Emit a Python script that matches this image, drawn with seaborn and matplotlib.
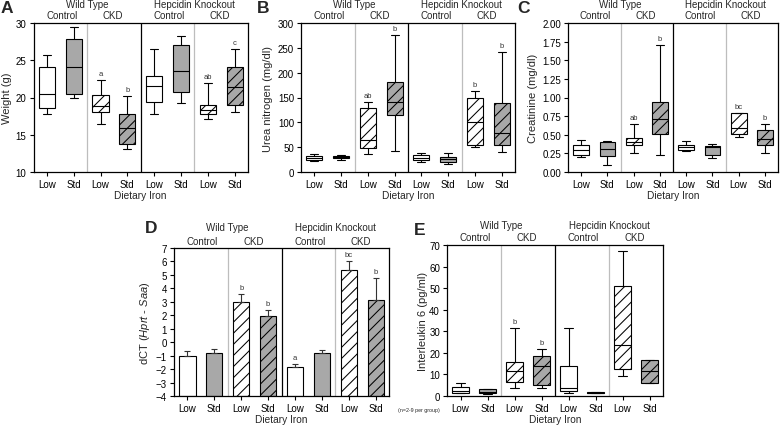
import numpy as np
import pandas as pd
import matplotlib
matplotlib.use("Agg")
import matplotlib.pyplot as plt
import seaborn as sns

# ---------------- data ----------------
groups = ["WT-Ctrl-Low", "WT-Ctrl-Std", "WT-CKD-Low", "WT-CKD-Std",
          "HK-Ctrl-Low", "HK-Ctrl-Std", "HK-CKD-Low", "HK-CKD-Std"]
iron_labels = ["Low", "Std", "Low", "Std", "Low", "Std", "Low", "Std"]
genotype_labels = ["Wild Type", "Hepcidin Knockout"]
condition_labels = ["Control", "CKD", "Control", "CKD"]

# A: body weight (g), five-number summaries
weight_min = [17.85, 19.9, 16.45, 13.1, 17.85, 19.3, 17.1, 18.1]
weight_q1 = [18.55, 20.45, 18.1, 13.7, 19.45, 20.8, 17.85, 19.0]
weight_med = [20.5, 24.1, 18.9, 15.95, 21.5, 23.5, 18.3, 21.35]
weight_q3 = [24.1, 27.9, 20.35, 17.85, 22.95, 27.0, 19.0, 24.1]
weight_max = [25.7, 29.5, 22.4, 20.2, 26.55, 28.2, 21.9, 26.45]
weight_letters = ["", "", "a", "b", "", "", "ab", "c"]

# B: urea nitrogen (mg/dl)
urea_min = [22, 25, 36, 42, 20, 16, 50, 40]
urea_q1 = [24, 28, 48, 115, 24, 21, 54, 54]
urea_med = [28, 30, 64, 141, 28, 26, 101, 79]
urea_q3 = [32, 33, 128, 182, 34, 31, 148, 138]
urea_max = [36, 35, 140, 276, 38, 39, 163, 242]
urea_letters = ["", "", "ab", "b", "", "", "b", "b"]

# C: creatinine (mg/dl)
creat_min = [0.197, 0.099, 0.26, 0.233, 0.278, 0.193, 0.466, 0.251]
creat_q1 = [0.229, 0.22, 0.363, 0.507, 0.30, 0.228, 0.506, 0.358]
creat_med = [0.296, 0.31, 0.408, 0.709, 0.33, 0.33, 0.587, 0.448]
creat_q3 = [0.359, 0.408, 0.462, 0.942, 0.368, 0.345, 0.788, 0.564]
creat_max = [0.426, 0.417, 0.641, 1.70, 0.416, 0.381, 0.788, 0.645]
creat_letters = ["", "", "ab", "b", "", "", "bc", "b"]

# D: dCT (Hprt - Saa), mean and SEM
dct_mean = [-1.05, -0.78, 2.96, 1.92, -1.85, -0.83, 5.39, 3.16]
dct_sem = [0.43, 0.25, 0.60, 0.47, 0.23, 0.27, 0.62, 1.61]
dct_letters = ["", "", "b", "b", "a", "", "bc", "b"]

# E: interleukin 6 (pg/ml)
il6_min = [1.2, 1.1, 3.5, 3.5, 1.2, 1.2, 9.3, 6.0]
il6_q1 = [1.5, 1.2, 6.3, 5.1, 2.5, 1.2, 12.4, 6.0]
il6_med = [2.5, 1.9, 11.5, 13.9, 3.7, 1.6, 23.6, 11.6]
il6_q3 = [4.0, 3.1, 15.6, 18.5, 13.8, 2.0, 50.8, 16.7]
il6_max = [6.2, 3.2, 31.4, 21.6, 31.4, 2.0, 67.2, 16.7]
il6_letters = ["", "", "b", "b", "", "", "", ""]

# ---------------- style ----------------
GRAY = "#a8a8a8"
fills = ["white", GRAY] * 4
hatches = ["", "", "///", "///", "", "", "///", "///"]

sns.set_theme(style="ticks")
plt.rcParams["font.family"] = ["Liberation Sans", "DejaVu Sans"]
plt.rcParams["mathtext.fontset"] = "custom"
plt.rcParams["mathtext.rm"] = "Liberation Sans"
plt.rcParams["mathtext.it"] = "Liberation Sans:italic"
plt.rcParams["hatch.linewidth"] = 0.75
plt.rcParams["axes.linewidth"] = 0.9

W, H = 781, 427
fig = plt.figure(figsize=(W / 100, H / 100), dpi=100)


def add_ax(l, r, t, b):
    return fig.add_axes([l / W, 1 - b / H, (r - l) / W, (b - t) / H])


def frame(ax, ylim, yticks, ylabel, ylab_x, left_px, width_px, fmt=None, head_off=(8, 18.5)):
    ax.set_xlim(-0.5, 7.5)
    ax.set_ylim(*ylim)
    ax.axvline(1.5, color="#bdbdbd", lw=0.9, zorder=0.5)
    ax.axvline(5.5, color="#bdbdbd", lw=0.9, zorder=0.5)
    ax.axvline(3.5, color="black", lw=0.9, zorder=0.5)
    for s in ax.spines.values():
        s.set_visible(True)
        s.set_color("black")
        s.set_linewidth(0.9)
    ax.set_xticks(range(8))
    ax.set_xticklabels(iron_labels)
    ax.set_yticks(yticks)
    if fmt:
        ax.set_yticklabels([fmt % v for v in yticks])
    ax.tick_params(direction="out", length=3, width=0.8, labelsize=7, pad=2, colors="black")
    ax.set_xlabel("Dietary Iron", fontsize=7.3, labelpad=1)
    ax.set_ylabel(ylabel, fontsize=8)
    ax.yaxis.set_label_coords((ylab_x - left_px) / width_px, 0.5)
    tr = ax.get_xaxis_transform()
    for x, t in zip([1.5, 5.5], genotype_labels):
        ax.annotate(t, xy=(x, 1), xycoords=tr, xytext=(0, head_off[1] * 0.72),
                    textcoords="offset points", ha="center", va="center", fontsize=7)
    for x, t in zip([0.55, 2.45, 4.55, 6.45], condition_labels):
        ax.annotate(t, xy=(x, 1), xycoords=tr, xytext=(0, head_off[0] * 0.72),
                    textcoords="offset points", ha="center", va="center", fontsize=7)


def letters(ax, tops, labs):
    for i, (v, lab) in enumerate(zip(tops, labs)):
        if lab:
            ax.annotate(lab, xy=(i, v), xytext=(0, 2.2), textcoords="offset points",
                        ha="center", va="bottom", fontsize=5.5, color="#333333")


def box_panel(ax, mins, q1s, meds, q3s, maxs):
    rows = []
    for g, a, b, c, d, e in zip(groups, mins, q1s, meds, q3s, maxs):
        for v in (a, b, c, d, e):
            rows.append((g, v))
    df = pd.DataFrame(rows, columns=["group", "value"])
    sns.boxplot(data=df, x="group", y="value", hue="group", order=groups,
                hue_order=groups, palette=dict(zip(groups, fills)), whis=(0, 100),
                width=0.6, linecolor="black", linewidth=0.8, fliersize=0,
                legend=False, ax=ax)
    for p, h in zip(ax.patches, hatches):
        p.set_hatch(h)
        p.set_edgecolor("black")


# A
axA = add_ax(33.5, 248, 24, 173)
box_panel(axA, weight_min, weight_q1, weight_med, weight_q3, weight_max)
letters(axA, weight_max, weight_letters)
frame(axA, (10, 30), [10, 15, 20, 25, 30], "Weight (g)", 12, 33.5, 214.5)

# B
axB = add_ax(301, 515, 24, 173)
box_panel(axB, urea_min, urea_q1, urea_med, urea_q3, urea_max)
letters(axB, urea_max, urea_letters)
frame(axB, (0, 300), list(range(0, 301, 50)), "Urea nitrogen (mg/dl)", 273, 301, 214)

# C
axC = add_ax(568, 778, 24, 173)
box_panel(axC, creat_min, creat_q1, creat_med, creat_q3, creat_max)
letters(axC, creat_max, creat_letters)
frame(axC, (0, 2), [0, 0.25, 0.5, 0.75, 1.0, 1.25, 1.5, 1.75, 2.0], "Creatinine (mg/dl)",
      538, 568, 210, fmt="%.2f")

# D
axD = add_ax(174, 389, 249, 397)
sns.barplot(x=groups, y=dct_mean, hue=groups, order=groups, hue_order=groups,
            palette=dict(zip(groups, fills)), width=0.6, edgecolor="black",
            linewidth=0.8, errorbar=None, legend=False, ax=axD)
for p, v, h in zip(axD.patches, dct_mean, hatches):
    p.set_y(-4)
    p.set_height(v + 4)
    p.set_hatch(h)
axD.errorbar(range(8), dct_mean, yerr=[np.zeros(8), dct_sem], fmt="none",
             ecolor="#333333", elinewidth=0.8, capsize=2.5, capthick=0.8, zorder=3)
letters(axD, np.array(dct_mean) + np.array(dct_sem), dct_letters)
frame(axD, (-4, 7), list(range(-4, 8)), r"dCT ($\mathit{Hprt}$ - $\mathit{Saa}$)",
      152, 174, 215, head_off=(7, 20.5))

# E
axE = add_ax(447, 663, 246, 397)
box_panel(axE, il6_min, il6_q1, il6_med, il6_q3, il6_max)
letters(axE, il6_max, il6_letters)
frame(axE, (0, 70), list(range(0, 71, 10)), "Interleukin 6 (pg/ml)", 428, 447, 216,
      head_off=(7.5, 20))

fig.text(419 / W, 1 - 411 / H, "(n=2-9 per group)", fontsize=3.8, ha="center", va="center")

for lab, x, y in [("A", 1, 1), ("B", 257, 1), ("C", 517, 1), ("D", 145, 221), ("E", 414, 223)]:
    fig.text(x / W, 1 - y / H, lab, fontsize=12.5, fontweight="bold", ha="left", va="top")

fig.savefig("out.png", dpi=100)
